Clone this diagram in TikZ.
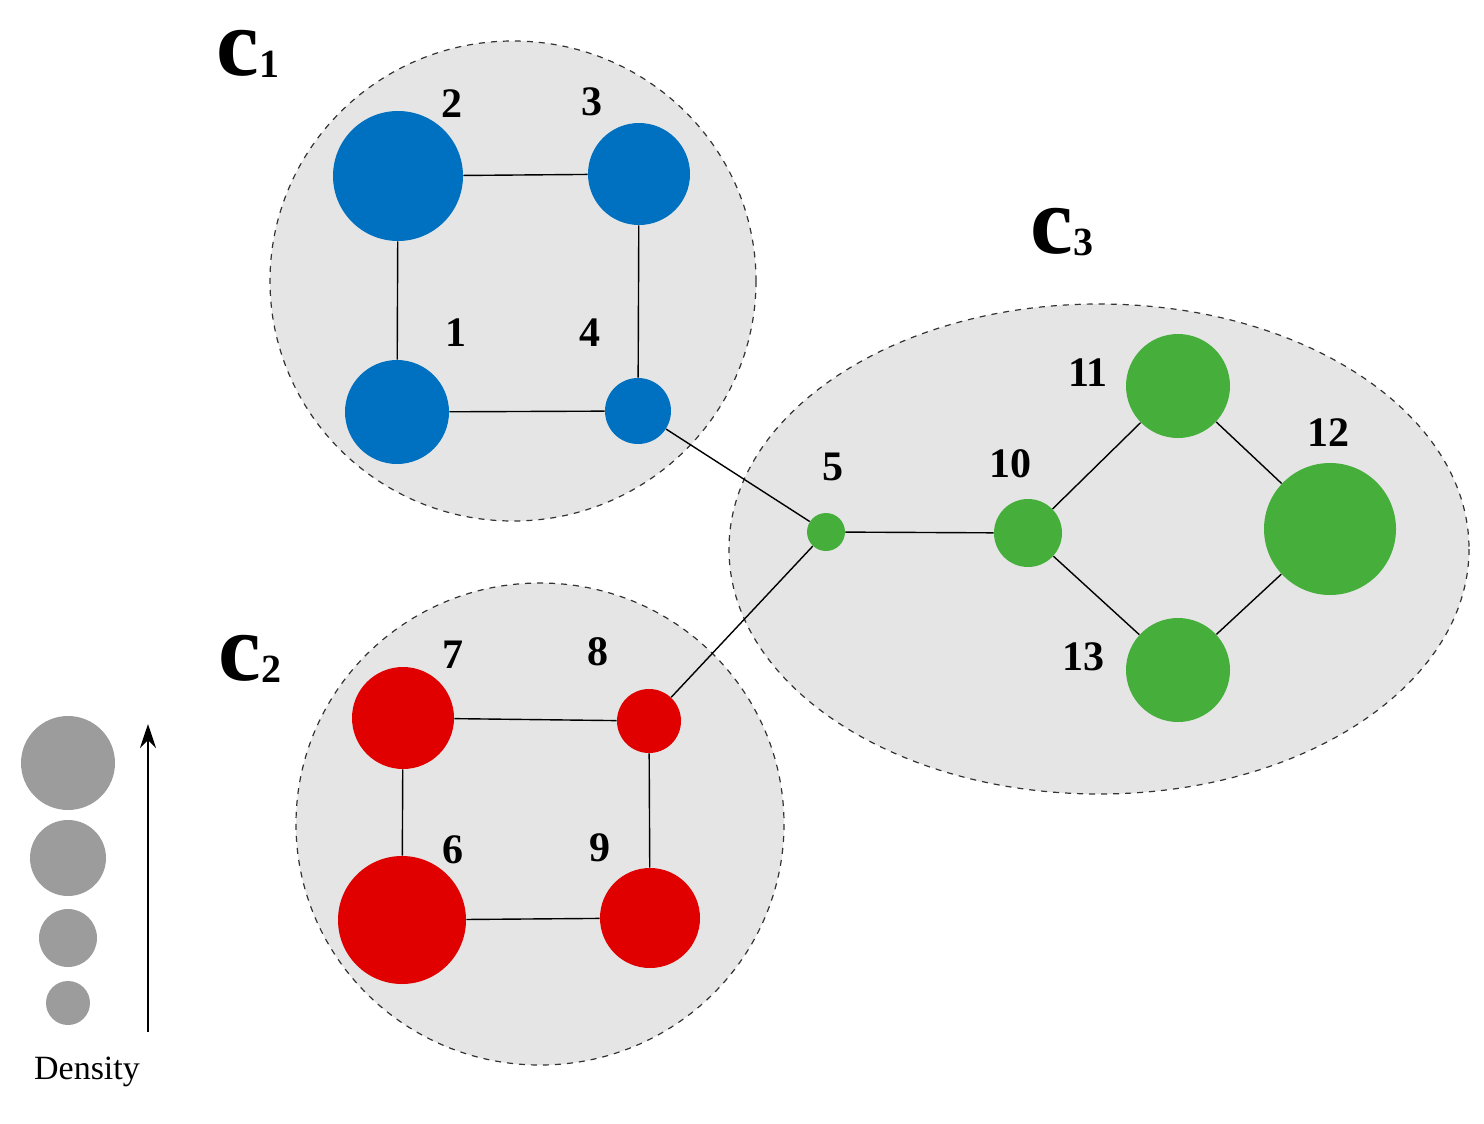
\documentclass[tikz,border=0pt]{standalone}
\usepackage{fontspec}
\usetikzlibrary{arrows.meta}
\setmainfont{Liberation Serif}
\begin{document}
\begin{tikzpicture}[x=0.5pt,y=-0.5pt,
 clu/.style={draw=black!80,dashed,fill=black!10,line width=0.6pt},
 v/.style={circle,inner sep=0pt,minimum size=#1*1pt},
 b/.style={v=#1,fill=blue1}, g/.style={v=#1,fill=green1}, r/.style={v=#1,fill=red1},
 lg/.style={v=#1,fill=gray1},
 lab/.style={font=\bfseries\fontsize{21}{21}\selectfont},
 cl/.style={font=\bfseries\fontsize{48}{48}\selectfont},
 e/.style={line width=0.7pt}]
\definecolor{blue1}{HTML}{0070C0}
\definecolor{green1}{HTML}{46AF3C}
\definecolor{red1}{HTML}{E00000}
\definecolor{gray1}{HTML}{9C9C9C}
\useasboundingbox (0,0) rectangle (1484,1124);
\draw[clu] (513,281) ellipse [x radius=243, y radius=240];
\draw[clu] (1099,549) ellipse [x radius=370, y radius=245];
\draw[clu] (540,824) ellipse [x radius=244, y radius=241];
\node[b=65] (n2) at (398,176) {};
\node[b=51] (n3) at (639,174) {};
\node[b=52] (n1) at (397,412) {};
\node[b=33] (n4) at (638,411) {};
\node[g=19] (n5) at (826,532) {};
\node[g=34] (n10) at (1028,533) {};
\node[g=52] (n11) at (1178,386) {};
\node[g=66] (n12) at (1330,529) {};
\node[g=52] (n13) at (1178,670) {};
\node[r=51] (n7) at (403,718) {};
\node[r=32] (n8) at (649,721) {};
\node[r=64] (n6) at (402,920) {};
\node[r=50] (n9) at (650,918) {};
\foreach \a/\b in {2/3,2/1,3/4,1/4,4/5,5/10,10/11,10/13,11/12,13/12,5/8,7/8,7/6,8/9,6/9}
  \draw[e] (n\a) -- (n\b);
\foreach \n/\x/\y in {2/452/104,3/592/102,1/456/333,4/590/333,5/833/467,10/1010/464,11/1088/373,12/1328/433,13/1083/657,7/453/655,8/598/652,6/453/850,9/600/848}
  \node[lab] (l\n) at (\x,\y) {\n};
\node[cl] (c1) at (248,54) {c\raisebox{-1pt}{\fontsize{20}{20}\selectfont 1}};
\node[cl] (c3) at (1062,232) {c\raisebox{-1pt}{\fontsize{20}{20}\selectfont 3}};
\node[cl] (c2) at (250,659) {c\raisebox{-1pt}{\fontsize{20}{20}\selectfont 2}};
\node[lg=47] (d1) at (68,763) {};
\node[lg=38] (d2) at (68,858) {};
\node[lg=29] (d3) at (68,938) {};
\node[lg=22] (d4) at (68,1003) {};
\coordinate (a0) at (148,1032);
\coordinate (a1) at (148,724);
\draw[line width=1.2pt,-{Stealth[length=12pt,width=8pt]}] (a0) -- (a1);
\node[font=\fontsize{17}{17}\selectfont] (den) at (87,1072) {Density};
\end{tikzpicture}
\end{document}
